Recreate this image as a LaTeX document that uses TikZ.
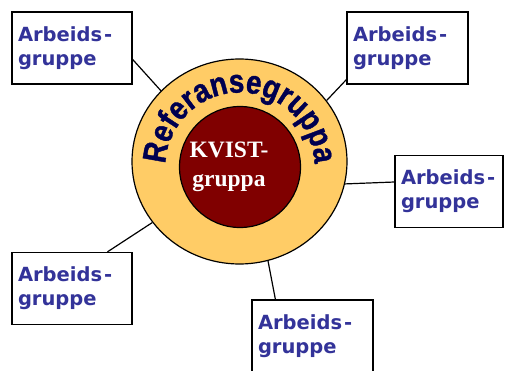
\documentclass[tikz,border=0pt]{standalone}
\usepackage{fontspec}
\usetikzlibrary{calc,shapes.geometric,decorations.text}
\newfontfamily\boxfam{DejaVu Sans}
\newfontfamily\reffam{Liberation Sans}[FakeStretch=0.84,FakeBold=1.2]
\newfontfamily\kvfam{Liberation Serif}
\definecolor{boxblue}{HTML}{333399}
\definecolor{ringfill}{HTML}{FFCC66}
\definecolor{kvred}{HTML}{800000}
\definecolor{refnavy}{HTML}{000050}
\newcommand\refstyle{\reffam\bfseries\fontsize{33pt}{33pt}\selectfont}
\newcommand\arb{Arbeids\kern2pt-\\gruppe}
\begin{document}
\begin{tikzpicture}[x=1pt,y=1pt,
  grp/.style={draw=black, line width=1.2pt, fill=white, minimum height=72pt,
    inner xsep=6pt, inner ysep=0pt, text width=#1, align=left,
    font={\boxfam\bfseries\fontsize{19.5pt}{24pt}\selectfont}, text=boxblue},
  link/.style={draw=black, line width=1.2pt}]
\useasboundingbox (0,0) rectangle (506,370);
% boxes
\node[grp=108pt] (b1) at (72,322) {\arb};
\node[grp=109pt] (b2) at (407.5,322) {\arb};
\node[grp=96pt]  (b3) at (449,178.5) {\arb};
\node[grp=108pt] (b4) at (72,81.5) {\arb};
\node[grp=109pt] (b5) at (312.5,34) {\arb};
% rings
\node[ellipse, draw=black, fill=ringfill, line width=1.2pt, inner sep=0pt,
  minimum width=215pt, minimum height=205pt] (ref) at (239.5,208.5) {};
\node[circle, draw=black, fill=kvred, line width=1.2pt, inner sep=0pt,
  minimum size=121pt] (kvist) at (240,203) {};
\node[text=white, align=center, inner sep=0pt,
  font={\kvfam\bfseries\fontsize{23.5pt}{29pt}\selectfont}] (kvtext) at (229,203) {KVIST-\\gruppa};
\path[decorate, decoration={text along path, text align=center, text color=refnavy,
  text={|\refstyle|Referansegruppa}}]
  (240,203) ++(182:74.5) arc[start angle=182, end angle=-2, radius=74.5];
% connectors
\draw[link] ($(b1.north east)+(0,-48)$) -- (ref.138);
\draw[link] ($(b2.south west)+(0,5)$) -- (ref.35);
\draw[link] ($(b3.west)+(0,9.5)$) -- (ref.-12);
\draw[link] ($(b4.north west)+(96,0)$) -- (ref.215);
\draw[link] ($(b5.north west)+(24,0)$) -- (ref.-74);
\end{tikzpicture}
\end{document}
